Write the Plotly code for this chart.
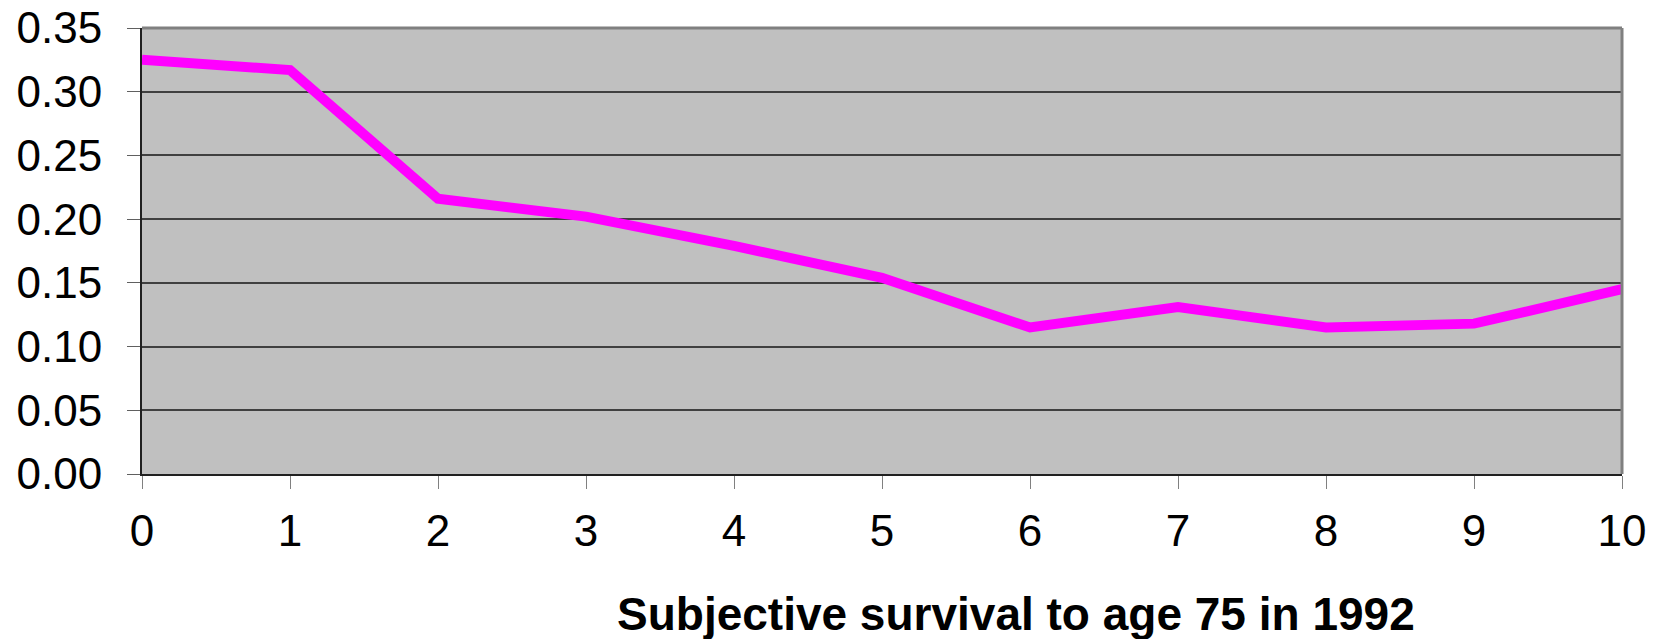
import plotly.graph_objects as go

x_vals = [0, 1, 2, 3, 4, 5, 6, 7, 8, 9, 10]
y_vals = [0.325, 0.317, 0.216, 0.202, 0.179, 0.154, 0.115, 0.131, 0.115, 0.118, 0.145]
y_ticks = [0.00, 0.05, 0.10, 0.15, 0.20, 0.25, 0.30, 0.35]
x_title = "Subjective survival to age 75 in 1992"

W, H = 1658, 639
L, R, T, B = 142, 36, 28, 165

fig = go.Figure()
fig.add_trace(go.Scatter(
    x=x_vals, y=y_vals, mode="lines",
    line=dict(color="#FF00FF", width=10),
    showlegend=False, hoverinfo="skip",
))

font_family = "Liberation Sans, Arial, sans-serif"

fig.update_layout(
    width=W, height=H,
    margin=dict(l=L, r=R, t=T, b=B),
    paper_bgcolor="white",
    plot_bgcolor="#C0C0C0",
    font=dict(family=font_family, size=44, color="black"),
    xaxis=dict(
        range=[0, 10], tickmode="array", tickvals=x_vals,
        ticktext=[str(v) for v in x_vals],
        showgrid=False, zeroline=False, automargin=False,
        showline=True, linecolor="#202020", linewidth=2,
        ticks="outside", ticklen=13, tickcolor="#808080", tickwidth=1,
        tickfont=dict(size=44), ticklabelstandoff=4,
    ),
    yaxis=dict(
        range=[0, 0.35], tickmode="array", tickvals=y_ticks,
        ticktext=["%.2f" % v for v in y_ticks],
        showgrid=True, gridcolor="#404040", gridwidth=1.5,
        zeroline=False, automargin=False,
        showline=True, linecolor="#202020", linewidth=2,
        ticks="outside", ticklen=13, tickcolor="#606060", tickwidth=1,
        tickfont=dict(size=44), ticklabelstandoff=16,
    ),
    shapes=[
        dict(type="line", xref="paper", yref="paper", x0=0, x1=1, y0=1, y1=1,
             line=dict(color="#808080", width=3)),
        dict(type="line", xref="paper", yref="paper", x0=1, x1=1, y0=0, y1=1,
             line=dict(color="#808080", width=3)),
    ],
    annotations=[
        dict(text="<b>" + x_title + "</b>", xref="paper", yref="paper",
             x=(1016 - L) / (W - L - R), y=(H - B - 586) / (H - T - B),
             xanchor="center", yanchor="top", showarrow=False,
             font=dict(size=46, family=font_family, color="black")),
    ],
)

fig.write_html("out.html")
